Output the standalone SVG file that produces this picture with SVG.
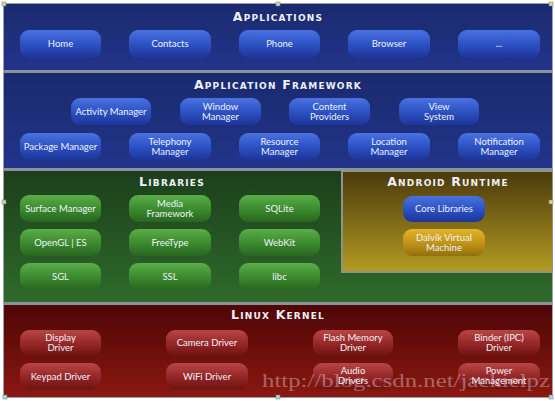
<svg xmlns="http://www.w3.org/2000/svg" width="555" height="401" viewBox="0 0 555 401">
<defs>
<linearGradient id="bgBlue" x1="0" y1="0" x2="0" y2="1"><stop offset="0" stop-color="#1a2a6e"/><stop offset="1" stop-color="#22348a"/></linearGradient>
<linearGradient id="bgGreen" x1="0" y1="0" x2="0" y2="1"><stop offset="0" stop-color="#1c3f1c"/><stop offset="1" stop-color="#2e6a2a"/></linearGradient>
<linearGradient id="bgGold" x1="0" y1="0" x2="0" y2="1"><stop offset="0" stop-color="#4a3a0c"/><stop offset="1" stop-color="#b39a22"/></linearGradient>
<linearGradient id="bgRed" x1="0" y1="0" x2="0" y2="1"><stop offset="0" stop-color="#4e0606"/><stop offset="1" stop-color="#8a1810"/></linearGradient>
<linearGradient id="btBlue" x1="0" y1="0" x2="0" y2="1"><stop offset="0" stop-color="#4a72e0"/><stop offset="0.5" stop-color="#2d52c4"/><stop offset="1" stop-color="#1d3599"/></linearGradient>
<linearGradient id="btGreen" x1="0" y1="0" x2="0" y2="1"><stop offset="0" stop-color="#5aae48"/><stop offset="0.5" stop-color="#3d8c30"/><stop offset="1" stop-color="#28661e"/></linearGradient>
<linearGradient id="btGold" x1="0" y1="0" x2="0" y2="1"><stop offset="0" stop-color="#e3b52a"/><stop offset="0.5" stop-color="#c39518"/><stop offset="1" stop-color="#93700e"/></linearGradient>
<linearGradient id="btRed" x1="0" y1="0" x2="0" y2="1"><stop offset="0" stop-color="#b84646"/><stop offset="0.5" stop-color="#982828"/><stop offset="1" stop-color="#6e1212"/></linearGradient>
</defs>
<style>
.t{font-family:"DejaVu Sans",sans-serif;font-weight:bold;font-size:12.5px;font-variant:small-caps;letter-spacing:1.2px;fill:#eef0f6;text-anchor:middle}
.b{font-family:"Lato","Open Sans",sans-serif;font-size:9.5px;fill:#eef2fa;text-anchor:middle}
.sep{fill:#8c929c}
.h{fill:#d8d4a0;stroke:#777;stroke-width:0.5}
.hc{fill:#a8dce0;stroke:#777;stroke-width:0.5}
</style>
<rect x="0" y="0" width="555" height="401" fill="#ffffff"/>
<rect x="3" y="3" width="550" height="395" fill="#9aa0a8"/>

<g id="applications">
<rect x="4" y="4" width="548" height="66" fill="url(#bgBlue)"/>
<text class="t" x="278" y="21">Applications</text>
</g>
<rect class="sep" x="4" y="70" width="548" height="3"/>
<g id="app-framework">
<rect x="4" y="73" width="548" height="95" fill="url(#bgBlue)"/>
<text class="t" x="278" y="89">Application Framework</text>
</g>
<rect class="sep" x="4" y="168" width="548" height="3"/>
<g id="libraries">
<rect x="4" y="171" width="548" height="131" fill="url(#bgGreen)"/>
<text class="t" x="172" y="186">Libraries</text>
</g>
<g id="android-runtime">
<rect x="341" y="170" width="212" height="103" fill="#8e9388"/>
<rect x="343" y="172" width="209" height="99" fill="url(#bgGold)"/>
<text class="t" x="448" y="186">Android Runtime</text>
</g>
<rect class="sep" x="4" y="302" width="548" height="3"/>
<g id="linux-kernel">
<rect x="4" y="305" width="548" height="92" fill="url(#bgRed)"/>
<text class="t" x="278" y="319">Linux Kernel</text>
</g>

<g id="n-home"><rect x="20" y="30" width="81" height="28" rx="9" fill="url(#btBlue)"/><text class="b" x="60.5" y="47">Home</text></g>
<g id="n-contacts"><rect x="129" y="30" width="82" height="28" rx="9" fill="url(#btBlue)"/><text class="b" x="170" y="47">Contacts</text></g>
<g id="n-phone"><rect x="239" y="30" width="81" height="28" rx="9" fill="url(#btBlue)"/><text class="b" x="279.5" y="47">Phone</text></g>
<g id="n-browser"><rect x="348" y="30" width="82" height="28" rx="9" fill="url(#btBlue)"/><text class="b" x="389" y="47">Browser</text></g>
<g id="n-more"><rect x="458" y="30" width="82" height="28" rx="9" fill="url(#btBlue)"/><text class="b" x="499" y="47">...</text></g>

<g id="n-activity"><rect x="71" y="98" width="80" height="27" rx="9" fill="url(#btBlue)"/><text class="b" x="111" y="115">Activity Manager</text></g>
<g id="n-window"><rect x="180" y="98" width="81" height="27" rx="9" fill="url(#btBlue)"/><text class="b" x="220.5" y="110">Window</text><text class="b" x="220.5" y="120">Manager</text></g>
<g id="n-content"><rect x="289" y="98" width="81" height="27" rx="9" fill="url(#btBlue)"/><text class="b" x="329.5" y="110">Content</text><text class="b" x="329.5" y="120">Providers</text></g>
<g id="n-view"><rect x="399" y="98" width="80" height="27" rx="9" fill="url(#btBlue)"/><text class="b" x="439" y="110">View</text><text class="b" x="439" y="120">System</text></g>

<g id="n-package"><rect x="20" y="133" width="81" height="27" rx="9" fill="url(#btBlue)"/><text class="b" x="60.5" y="150">Package Manager</text></g>
<g id="n-telephony"><rect x="129" y="133" width="82" height="27" rx="9" fill="url(#btBlue)"/><text class="b" x="170" y="145">Telephony</text><text class="b" x="170" y="155">Manager</text></g>
<g id="n-resource"><rect x="239" y="133" width="81" height="27" rx="9" fill="url(#btBlue)"/><text class="b" x="279.5" y="145">Resource</text><text class="b" x="279.5" y="155">Manager</text></g>
<g id="n-location"><rect x="348" y="133" width="82" height="27" rx="9" fill="url(#btBlue)"/><text class="b" x="389" y="145">Location</text><text class="b" x="389" y="155">Manager</text></g>
<g id="n-notification"><rect x="458" y="133" width="82" height="27" rx="9" fill="url(#btBlue)"/><text class="b" x="499" y="145">Notification</text><text class="b" x="499" y="155">Manager</text></g>

<g id="n-surface"><rect x="20" y="195" width="81" height="27" rx="9" fill="url(#btGreen)"/><text class="b" x="60.5" y="212">Surface Manager</text></g>
<g id="n-media"><rect x="129" y="195" width="82" height="27" rx="9" fill="url(#btGreen)"/><text class="b" x="170" y="207">Media</text><text class="b" x="170" y="217">Framework</text></g>
<g id="n-sqlite"><rect x="239" y="195" width="81" height="27" rx="9" fill="url(#btGreen)"/><text class="b" x="279.5" y="212">SQLite</text></g>
<g id="n-opengl"><rect x="20" y="229" width="81" height="27" rx="9" fill="url(#btGreen)"/><text class="b" x="60.5" y="246">OpenGL | ES</text></g>
<g id="n-freetype"><rect x="129" y="229" width="82" height="27" rx="9" fill="url(#btGreen)"/><text class="b" x="170" y="246">FreeType</text></g>
<g id="n-webkit"><rect x="239" y="229" width="81" height="27" rx="9" fill="url(#btGreen)"/><text class="b" x="279.5" y="246">WebKit</text></g>
<g id="n-sgl"><rect x="20" y="263" width="81" height="27" rx="9" fill="url(#btGreen)"/><text class="b" x="60.5" y="280">SGL</text></g>
<g id="n-ssl"><rect x="129" y="263" width="82" height="27" rx="9" fill="url(#btGreen)"/><text class="b" x="170" y="280">SSL</text></g>
<g id="n-libc"><rect x="239" y="263" width="81" height="27" rx="9" fill="url(#btGreen)"/><text class="b" x="279.5" y="280">libc</text></g>

<g id="n-core"><rect x="403" y="196" width="82" height="26" rx="9" fill="url(#btBlue)"/><text class="b" x="444" y="212">Core Libraries</text></g>
<g id="n-dalvik"><rect x="403" y="229" width="82" height="27" rx="9" fill="url(#btGold)"/><text class="b" x="444" y="241">Dalvik Virtual</text><text class="b" x="444" y="251">Machine</text></g>

<g id="n-display"><rect x="20" y="330" width="81" height="26" rx="9" fill="url(#btRed)"/><text class="b" x="60.5" y="341">Display</text><text class="b" x="60.5" y="351">Driver</text></g>
<g id="n-camera"><rect x="166" y="330" width="82" height="26" rx="9" fill="url(#btRed)"/><text class="b" x="207" y="346">Camera Driver</text></g>
<g id="n-flash"><rect x="313" y="330" width="80" height="26" rx="9" fill="url(#btRed)"/><text class="b" x="353" y="341">Flash Memory</text><text class="b" x="353" y="351">Driver</text></g>
<g id="n-binder"><rect x="458" y="330" width="82" height="26" rx="9" fill="url(#btRed)"/><text class="b" x="499" y="341">Binder (IPC)</text><text class="b" x="499" y="351">Driver</text></g>
<g id="n-keypad"><rect x="20" y="363" width="81" height="26" rx="9" fill="url(#btRed)"/><text class="b" x="60.5" y="380">Keypad Driver</text></g>
<g id="n-wifi"><rect x="166" y="363" width="82" height="26" rx="9" fill="url(#btRed)"/><text class="b" x="207" y="380">WiFi Driver</text></g>
<g id="n-audio"><rect x="313" y="363" width="80" height="26" rx="9" fill="url(#btRed)"/><text class="b" x="353" y="374">Audio</text><text class="b" x="353" y="384">Drivers</text></g>
<g id="n-power"><rect x="458" y="363" width="82" height="26" rx="9" fill="url(#btRed)"/><text class="b" x="499" y="374">Power</text><text class="b" x="499" y="384">Management</text></g>

<g id="connectors"></g>

<text x="262" y="387" font-family="Liberation Serif, serif" font-size="18" fill="#ffffff" fill-opacity="0.35" textLength="288" lengthAdjust="spacingAndGlyphs">http://blog.csdn.net/jackielpz</text>

<g id="handles">
<rect class="h" x="2" y="2" width="4" height="4"/>
<rect class="h" x="276" y="2" width="4" height="4"/>
<rect class="h" x="549" y="2" width="4" height="4"/>
<rect class="h" x="2" y="200" width="4" height="4"/>
<rect class="h" x="549" y="200" width="4" height="4"/>
<rect class="hc" x="3" y="395" width="4" height="4"/>
<rect class="hc" x="276" y="395" width="4" height="4"/>
<rect class="hc" x="549" y="395" width="4" height="4"/>
</g>
</svg>
